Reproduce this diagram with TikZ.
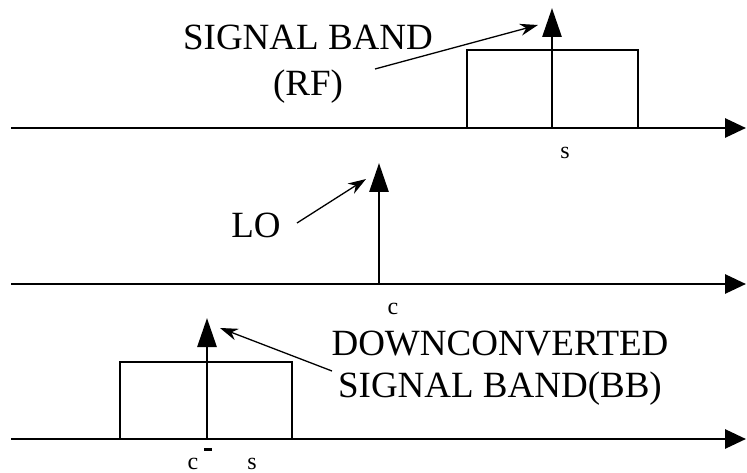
\documentclass[tikz,border=0pt]{standalone}
\usepackage{fontspec}
\setmainfont{Liberation Serif}
\usepackage{tikz}
\usetikzlibrary{arrows.meta,positioning}
\tikzset{
  ax/.style={-{Triangle[length=21pt,width=19pt]},line width=2.9pt},
  spk/.style={-{Triangle[length=29pt,width=19pt]},line width=2.9pt},
  band/.style={line width=2.9pt},
  ptr/.style={-{Stealth[length=18pt,width=12pt]},line width=1.3pt},
  big/.style={font=\fontsize{37}{46}\selectfont,align=center,inner sep=0pt},
  bigb/.style={font=\fontsize{37}{42}\selectfont,align=center,inner sep=0pt},
  sm/.style={font=\fontsize{24}{28}\selectfont,inner sep=0pt}
}

\begin{document}
\begin{tikzpicture}[x=1pt,y=-1pt]
\useasboundingbox (0,0) rectangle (747,473);
% RF band
\coordinate (a1) at (11,128); \coordinate (e1) at (746,128);
\draw[ax] (a1) -- (e1);
\draw[band] (467,128) |- (638,50) -- (638,128);
\coordinate (s0) at (552,128); \coordinate (s1) at (552,8);
\draw[spk] (s0) -- (s1);
\node[big] (rf) at (308,64) {SIGNAL BAND\\(RF)};
\coordinate (p1) at (375,69); \coordinate (q1) at (538,25);
\draw[ptr] (p1) -- (q1);
\node[sm,anchor=base] (ws) at (565,159) {s};
% LO
\coordinate (a2) at (11,284); \coordinate (e2) at (746,284);
\draw[ax] (a2) -- (e2);
\coordinate (c0) at (379,284); \coordinate (c1) at (379,163);
\draw[spk] (c0) -- (c1);
\node[big,anchor=base] (lo) at (256,238) {LO};
\coordinate (p2) at (297,223); \coordinate (q2) at (366,179);
\draw[ptr] (p2) -- (q2);
\node[sm,anchor=base] (wc) at (393,314) {c};
% BB band
\coordinate (a3) at (11,439); \coordinate (e3) at (746,439);
\draw[ax] (a3) -- (e3);
\draw[band] (120,439) |- (292,362) -- (292,439);
\coordinate (d0) at (207,439); \coordinate (d1) at (207,318);
\draw[spk] (d0) -- (d1);
\node[bigb] (bb) at (500,368) {DOWNCONVERTED\\SIGNAL BAND(BB)};
\coordinate (p3) at (332,371); \coordinate (q3) at (220,328);
\draw[ptr] (p3) -- (q3);
\node[sm,anchor=base west] (wcs) at (187.5,469) {c\hspace{6pt}\rule[18pt]{8pt}{2.8pt}};
\node[sm,anchor=base] (ws2) at (252,469) {s};
\end{tikzpicture}
\end{document}
